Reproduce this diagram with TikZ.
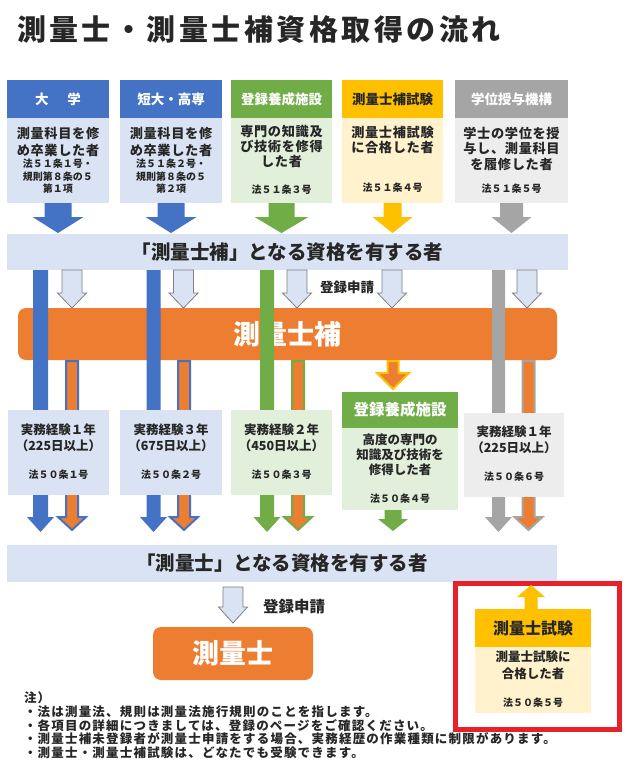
\documentclass[tikz,border=0pt]{standalone}
\usepackage{fontspec}
\setmainfont{Noto Sans CJK JP}
\definecolor{cblue}{HTML}{4472C4}
\definecolor{cbluel}{HTML}{DAE3F3}
\definecolor{cgreen}{HTML}{70AD47}
\definecolor{cgreenl}{HTML}{E2EFDA}
\definecolor{cgold}{HTML}{FFC000}
\definecolor{cgoldl}{HTML}{FFF2CC}
\definecolor{cgrey}{HTML}{A5A5A5}
\definecolor{cgreyl}{HTML}{EDEDED}
\definecolor{corange}{HTML}{ED7D31}
\definecolor{cred}{HTML}{E8202A}
\definecolor{ctext}{HTML}{262626}
\definecolor{cwline}{HTML}{7F7F7F}
\newcommand\fsz[2]{\fontsize{#1}{#2}\selectfont\bfseries}
% style, cx, ytop, ytip, halfshaft, halfhead, y of head base
\newcommand\blockarr[7]{\path[#1] (#2-#5,#3) -- (#2+#5,#3) -- (#2+#5,#7) -- (#2+#6,#7) -- (#2,#4) -- (#2-#6,#7) -- (#2-#5,#7) -- cycle;}
\tikzset{
  blk/.style={anchor=north west, inner sep=0, outer sep=0, draw=none},
  hdrtxt/.style={text=white, font={\fsz{13.5}{15}}},
  bigtxt/.style={align=center, font={\fsz{13.2}{17}\addfontfeature{LetterSpace=5}}},
  smltxt/.style={align=center, font={\fsz{10}{12.5}}},
  midtxt/.style={align=center, font={\fsz{12.5}{16}}},
  warrow/.style={fill=cbluel, draw=cwline, line width=0.8pt},
  obar/.style={fill=corange, draw=#1, line width=2pt},
}
\begin{document}
\begin{tikzpicture}[x=1pt,y=-1pt, every node/.style={inner sep=0, outer sep=0, text=ctext}]
\useasboundingbox[fill=white] (0,0) rectangle (622,777);
% title
\node[anchor=west, font={\fsz{29}{30}\addfontfeature{LetterSpace=12}}] (title) at (17,30) {測量士・測量士補資格取得の流れ};
% top boxes
\node[blk, fill=cblue, minimum width=102, minimum height=38, hdrtxt] (h1) at (7,80) {大\hspace{19pt}学};
\node[blk, fill=cbluel, minimum width=102, minimum height=85] (b1) at (7,118) {};
\node[blk, fill=cblue, minimum width=102, minimum height=38, hdrtxt] (h2) at (120,80) {短大・高専};
\node[blk, fill=cbluel, minimum width=102, minimum height=85] (b2) at (120,118) {};
\node[blk, fill=cgreen, minimum width=101, minimum height=38, hdrtxt] (h3) at (231,80) {登録養成施設};
\node[blk, fill=cgreenl, minimum width=101, minimum height=85] (b3) at (231,118) {};
\node[blk, fill=cgold, minimum width=101, minimum height=38, hdrtxt, text=ctext] (h4) at (342,80) {測量士補試験};
\node[blk, fill=cgoldl, minimum width=101, minimum height=85] (b4) at (342,118) {};
\node[blk, fill=cgrey, minimum width=113, minimum height=38, hdrtxt] (h5) at (455,80) {学位授与機構};
\node[blk, fill=cgreyl, minimum width=113, minimum height=85] (b5) at (455,118) {};
% top box texts
\node[bigtxt] (t1a) at (58,141.5) {測量科目を修\\め卒業した者};
\node[smltxt] (t1b) at (58,176.5) {法５１条１号・\\規則第８条の５\\第１項};
\node[bigtxt] (t2a) at (171,141.5) {測量科目を修\\め卒業した者};
\node[smltxt] (t2b) at (171,176.5) {法５１条２号・\\規則第８条の５\\第２項};
\node[bigtxt, font={\fsz{13.2}{15}\addfontfeature{LetterSpace=5}}] (t3a) at (281.5,146) {専門の知識及\\び技術を修得\\した者};
\node[smltxt] (t3b) at (281.5,190) {法５１条３号};
\node[bigtxt, font={\fsz{13.2}{15}\addfontfeature{LetterSpace=5}}] (t4a) at (392.5,139.5) {測量士補試験\\に合格した者};
\node[smltxt] (t4b) at (392.5,188) {法５１条４号};
\node[bigtxt, font={\fsz{13.2}{15.5}\addfontfeature{LetterSpace=5}}] (t5a) at (511.5,148.5) {学士の学位を授\\与し、測量科目\\を履修した者};
\node[smltxt] (t5b) at (511.5,189) {法５１条５号};
% arrows from top boxes
\blockarr{fill=cblue}{58}{203}{233}{13.5}{25.5}{217}
\blockarr{fill=cblue}{171}{203}{233}{13.5}{25.5}{217}
\blockarr{fill=cgreen}{281.5}{203}{233}{13}{27}{217}
\blockarr{fill=cgold}{392.5}{203}{233}{9}{20}{217}
\blockarr{fill=cgrey}{511.5}{203}{233}{11.5}{20}{217}
% band 1
\node[blk, fill=cbluel, minimum width=561, minimum height=36, font={\fsz{19.5}{20}}] (band1) at (7,234) {「測量士補」となる資格を有する者};
% orange band
\node[blk, fill=corange, rounded corners=8pt, minimum width=539, minimum height=52, text=white, font={\fsz{27}{27}}] (hosa) at (18,308) {測量士補};
% long bars
\blockarr{fill=cblue}{40.5}{270}{532}{7.5}{13.5}{517}
\blockarr{fill=cblue}{153.5}{270}{532}{7}{13.5}{517}
\blockarr{fill=cgreen}{267}{270}{532}{7}{13.5}{517}
\blockarr{fill=cgrey}{498.5}{270}{532}{6.5}{13.5}{517}
% white arrows into orange band
\blockarr{warrow}{72}{270}{308}{10}{14.5}{293}
\blockarr{warrow}{183.5}{270}{308}{10}{14.5}{293}
\blockarr{warrow}{297}{270}{308}{10}{14.5}{293}
\blockarr{warrow}{392}{270}{308}{10}{14.5}{293}
\blockarr{warrow}{527}{270}{308}{10}{14.5}{293}
\node[font={\fsz{13.5}{14}}] (reg1) at (347,287) {登録申請};
% orange bars with outline
\blockarr{obar=cblue}{72}{361}{530}{6}{14}{517}
\blockarr{obar=cblue}{184}{361}{530}{6}{14}{517}
\blockarr{obar=cgreen}{298}{361}{530}{6}{14}{517}
\blockarr{obar=cgrey}{528.5}{361}{530}{6}{14}{517}
% orange arrow into box 4
\blockarr{obar=cgold}{393}{361}{389}{5.5}{16}{373}
% bottom boxes
\node[blk, fill=cbluel, minimum width=101, minimum height=85] (c1) at (8,410) {};
\node[blk, fill=cbluel, minimum width=102, minimum height=85] (c2) at (120,410) {};
\node[blk, fill=cgreenl, minimum width=101, minimum height=85] (c3) at (231,410) {};
\node[blk, fill=cgreen, minimum width=116, minimum height=36, text=white, font={\fsz{15.5}{16}}] (c4h) at (342,392) {登録養成施設};
\node[blk, fill=cgreenl, minimum width=116, minimum height=82] (c4) at (342,428) {};
\node[blk, fill=cgreyl, minimum width=100, minimum height=84] (c5) at (464,413) {};
\node[midtxt] (u1a) at (58.5,438) {実務経験１年\\（225日以上）};
\node[smltxt] (u1b) at (58.5,475) {法５０条１号};
\node[midtxt] (u2a) at (171,438) {実務経験３年\\（675日以上）};
\node[smltxt] (u2b) at (171,475) {法５０条２号};
\node[midtxt] (u3a) at (281.5,438) {実務経験２年\\（450日以上）};
\node[smltxt] (u3b) at (281.5,475) {法５０条３号};
\node[midtxt, font={\fsz{12.5}{15}}] (u4a) at (400,455) {高度の専門の\\知識及び技術を\\修得した者};
\node[smltxt] (u4b) at (400,499) {法５０条４号};
\node[midtxt] (u5a) at (514,439.5) {実務経験１年\\（225日以上）};
\node[smltxt] (u5b) at (514,477) {法５０条６号};
% green arrow below box 4
\blockarr{fill=cgreen}{393}{510}{531}{8.5}{15}{519}
% band 2
\node[blk, fill=cbluel, minimum width=550, minimum height=37, font={\fsz{19.5}{20}}] (band2) at (7,545) {「測量士」となる資格を有する者};
% final
\blockarr{warrow}{233}{587}{623}{10}{14.5}{607}
\node[anchor=west, font={\fsz{15.5}{16}}] (reg2) at (263,607) {登録申請};
\node[blk, fill=corange, rounded corners=8pt, minimum width=160, minimum height=53, text=white, font={\fsz{27}{27}}] (sokuryoshi) at (153,627) {測量士};
% red box
\draw[cred, line width=5pt] (455.5,583.5) rectangle (619.5,729.5);
\blockarr{fill=cgold}{531}{609}{585}{6.5}{14}{597}
\node[blk, fill=cgold, minimum width=116, minimum height=38, font={\fsz{16}{16}}] (exh) at (475,609) {測量士試験};
\node[blk, fill=cgoldl, minimum width=116, minimum height=66] (exb) at (475,647) {};
\node[midtxt, font={\fsz{12.5}{17}}] (ex1) at (533,665.5) {測量士試験に\\合格した者};
\node[smltxt] (ex2) at (533,703) {法５０条５号};
% notes
\node[anchor=north west, align=left, font={\fsz{12.5}{13.7}\addfontfeature{LetterSpace=9.6}}] (notes) at (24,692) {注）\\・法は測量法、規則は測量法施行規則のことを指します。\\・各項目の詳細につきましては、登録のページをご確認ください。\\・測量士補未登録者が測量士申請をする場合、実務経歴の作業種類に制限があります。\\・測量士・測量士補試験は、どなたでも受験できます。};
\end{tikzpicture}
\end{document}
